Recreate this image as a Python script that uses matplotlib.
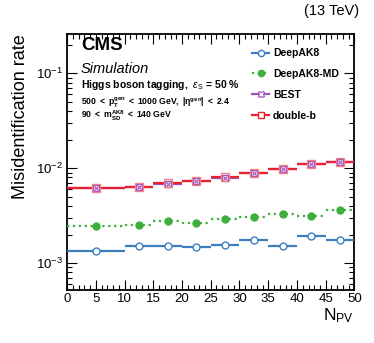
import matplotlib
matplotlib.use("Agg")
import matplotlib.pyplot as plt
from matplotlib.ticker import MultipleLocator, LogLocator, NullFormatter
from matplotlib.lines import Line2D
import numpy as np

plt.rcParams['font.family'] = ['Liberation Sans', 'DejaVu Sans']
plt.rcParams['mathtext.fontset'] = 'custom'
plt.rcParams['mathtext.rm'] = 'Liberation Sans'
plt.rcParams['mathtext.it'] = 'Liberation Sans:italic'
plt.rcParams['mathtext.bf'] = 'Liberation Sans:bold'

bin_edges = [0, 10, 15, 20, 25, 30, 35, 40, 45, 50]
deepak8 = [1.33e-3, 1.50e-3, 1.51e-3, 1.47e-3, 1.56e-3, 1.76e-3, 1.52e-3, 1.94e-3, 1.76e-3]
deepak8_err = [0.03e-3, 0.03e-3, 0.03e-3, 0.03e-3, 0.04e-3, 0.05e-3, 0.06e-3, 0.13e-3, 0.13e-3]
deepak8md = [2.43e-3, 2.49e-3, 2.75e-3, 2.66e-3, 2.91e-3, 3.03e-3, 3.28e-3, 3.13e-3, 3.59e-3]
deepak8md_err = [0.04e-3, 0.05e-3, 0.06e-3, 0.06e-3, 0.07e-3, 0.08e-3, 0.10e-3, 0.15e-3, 0.2e-3]
best = [6.2e-3, 6.4e-3, 6.8e-3, 7.3e-3, 7.9e-3, 9.0e-3, 9.7e-3, 1.10e-2, 1.15e-2]
best_err = [0.05e-3, 0.06e-3, 0.08e-3, 0.09e-3, 0.1e-3, 0.12e-3, 0.15e-3, 0.2e-3, 0.25e-3]
doubleb = [6.2e-3, 6.4e-3, 6.9e-3, 7.4e-3, 8.0e-3, 9.0e-3, 9.7e-3, 1.10e-2, 1.16e-2]
doubleb_err = [0.05e-3, 0.06e-3, 0.08e-3, 0.09e-3, 0.1e-3, 0.12e-3, 0.15e-3, 0.2e-3, 0.25e-3]

edges = np.array(bin_edges, dtype=float)
xc = 0.5 * (edges[:-1] + edges[1:])
xw = 0.5 * (edges[1:] - edges[:-1])

W, H = 374, 343
fig = plt.figure(figsize=(W / 100, H / 100), dpi=100)
ax = fig.add_axes([67 / W, 1 - 290 / H, (354.5 - 67) / W, (290 - 34) / H])

c_blue = '#3c7fc0'
c_green = '#3daf3d'
c_purple = '#a24fbf'
c_red = '#e8232f'

series = [
    ('DeepAK8', deepak8, deepak8_err, c_blue, 'o', 'white', '-'),
    ('DeepAK8-MD', deepak8md, deepak8md_err, c_green, 'o', c_green, ':'),
    ('BEST', best, best_err, c_purple, 'X', 'white', '-'),
    ('double-b', doubleb, doubleb_err, c_red, 's', 'white', '-'),
]
handles = []
for name, vals, err, col, mk, mfc, ls in series:
    eb = ax.errorbar(xc, vals, xerr=xw, yerr=err, fmt='none', ecolor=col,
                     elinewidth=1.6, capsize=0, zorder=3)
    for l in eb[2]:
        l.set_linestyle(ls)
    if name == 'BEST':
        ax.plot(xc, vals, ls='none', marker='s', ms=5, mfc='white', mec=col, mew=1.0, zorder=4)
        ax.plot(xc, vals, ls='none', marker='x', ms=3.5, mec=col, mew=0.8, zorder=4)
        h = Line2D([], [], color=col, ls=ls, lw=1.6, marker='X', ms=5, mfc='white', mec=col, mew=0.8)
    elif name == 'double-b':
        ax.plot(xc, vals, ls='none', marker='s', ms=5.5, mfc='none', mec='#f08088', mew=1.0, zorder=5)
        h = Line2D([], [], color=col, ls=ls, lw=1.6, marker='s', ms=5, mfc='white', mec=col, mew=1.0)
    else:
        ax.plot(xc, vals, ls='none', marker=mk, ms=5, mfc=mfc, mec=col, mew=1.0, zorder=4)
        h = Line2D([], [], color=col, ls=ls, lw=1.6, marker=mk, ms=4.5, mfc=mfc, mec=col, mew=1.0)
    handles.append((h, name))

ax.set_yscale('log')
ax.set_xlim(0, 50)
ax.set_ylim(5.2e-4, 0.26)
ax.xaxis.set_major_locator(MultipleLocator(5))
ax.xaxis.set_minor_locator(MultipleLocator(1))
ax.yaxis.set_major_locator(LogLocator(base=10, numticks=10))
ax.yaxis.set_minor_locator(LogLocator(base=10, subs=np.arange(2, 10), numticks=20))
ax.yaxis.set_minor_formatter(NullFormatter())
ax.tick_params(which='both', direction='in', top=True, right=True, labelsize=9.5, pad=3)
ax.tick_params(axis='x', which='both', pad=2.5)
ax.tick_params(which='major', length=7, width=0.8)
ax.tick_params(which='minor', length=3.5, width=0.8)
for s in ax.spines.values():
    s.set_linewidth(1.3)

ax.set_ylabel('Misidentification rate', fontsize=13, loc='top', labelpad=5)
fig.text(354 / W, 1 - 320 / H, r'N$_{\mathrm{PV}}$', fontsize=12.5, ha='right', va='baseline')

leg = ax.legend([h for h, n in handles], [n for h, n in handles], loc='upper left',
                frameon=False, prop={'weight': 'bold', 'size': 7.5}, handlelength=1.6,
                handletextpad=0.4, labelspacing=1.05, borderaxespad=0)
leg.set_bbox_to_anchor((248 / W, 1 - 44 / H), transform=fig.transFigure)

fig.text(81 / W, 1 - 49.5 / H, 'CMS', fontsize=13.5, fontweight='bold', ha='left', va='baseline')
fig.text(81 / W, 1 - 73 / H, 'Simulation', fontsize=10.5, style='italic', ha='left', va='baseline')
fig.text(81 / W, 1 - 88 / H, r'Higgs boson tagging,  $\epsilon_{\mathrm{S}}$ = 50 %', fontsize=7.5,
         fontweight='bold', ha='left', va='baseline')
fig.text(81 / W, 1 - 105 / H,
         r'$\mathbf{500\ <\ p_{T}^{gen}\ <\ 1000\ GeV,\ |\eta^{gen}|\ <\ 2.4}$',
         fontsize=6.2, ha='left', va='baseline')
fig.text(81 / W, 1 - 118 / H, r'$\mathbf{90\ <\ m_{SD}^{AK8}\ <\ 140\ GeV}$',
         fontsize=6.2, ha='left', va='baseline')
fig.text(359 / W, 1 - 15 / H, '(13 TeV)', fontsize=10.5, ha='right', va='baseline')

fig.savefig('out.png', dpi=100)
